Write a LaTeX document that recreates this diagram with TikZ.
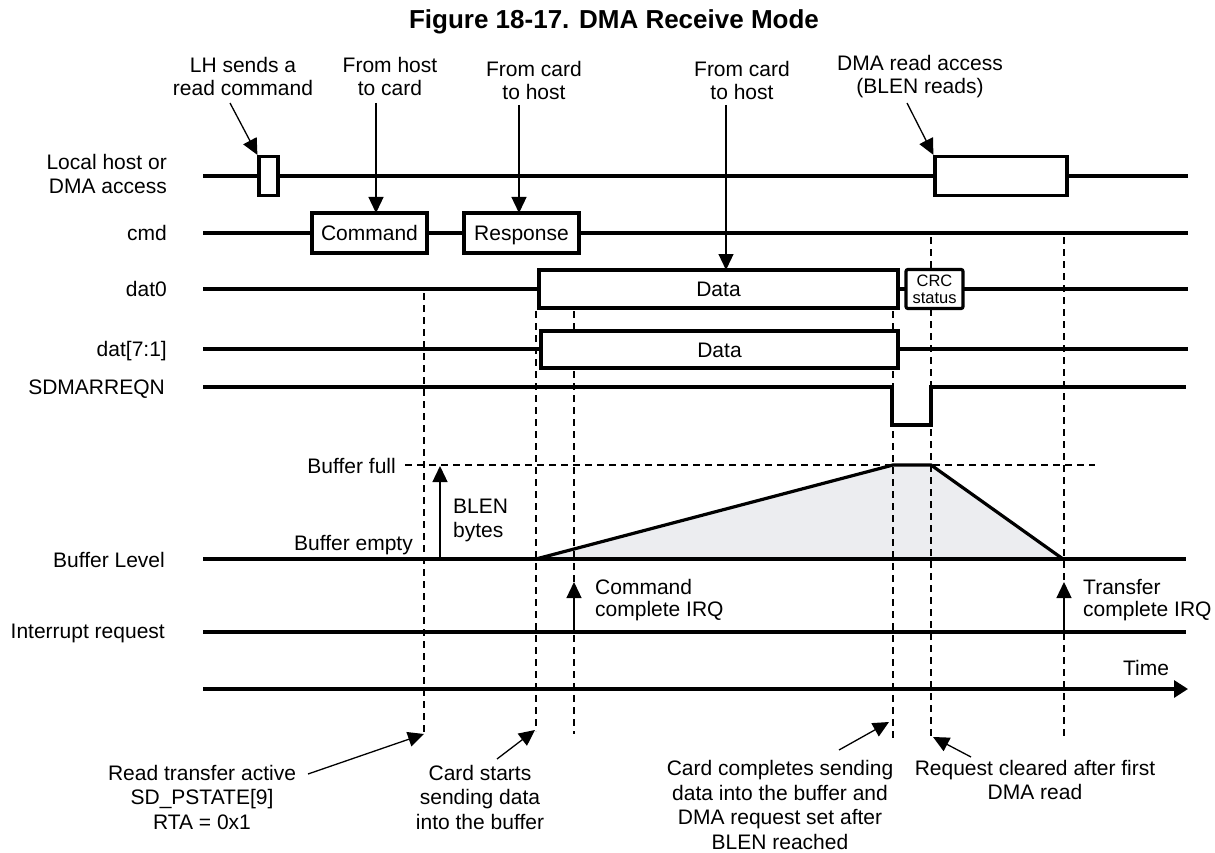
\documentclass[tikz,border=0pt]{standalone}
\usepackage{fontspec}
\setmainfont{Liberation Sans}
\usetikzlibrary{arrows.meta}
\definecolor{rampgray}{HTML}{ECEDF0}
\begin{document}
\begin{tikzpicture}[x=1pt,y=-1pt,
  sig/.style={line width=3.2pt},
  sigbox/.style={draw,line width=3.2pt,fill=white,inner sep=0pt,
    font=\fontsize{21}{24}\selectfont,text height=15pt,text depth=0pt},
  guide/.style={line width=1.3pt,dash pattern=on 7pt off 5pt},
  ann/.style={line width=1.3pt,-{Triangle[length=16pt,width=15pt]}},
  lbl/.style={inner sep=0pt,font=\fontsize{21}{24}\selectfont,align=center},
  rlbl/.style={inner sep=0pt,font=\fontsize{21}{24}\selectfont,anchor=base east},
]
\useasboundingbox (0,0) rectangle (1215,853);

% title
\node[inner sep=0pt,font=\fontsize{26}{30}\bfseries] (title) at (614,22) {Figure 18-17. DMA Receive Mode};

% signal names
\node[lbl,align=right,anchor=east] (lhlbl) at (167,174) {Local host or\\DMA access};
\node[rlbl] (cmdlbl) at (167,240.5) {cmd};
\node[rlbl] (dat0lbl) at (167,296.5) {dat0};
\node[rlbl] (dat71lbl) at (167,356.5) {dat[7:1]};
\node[rlbl] (reqlbl) at (165,394.5) {SDMARREQN};
\node[rlbl] (buflbl) at (165,567.5) {Buffer Level};
\node[rlbl] (irqlbl) at (165,638) {Interrupt request};

% buffer level fill
\fill[rampgray] (536,559) -- (893,465) -- (931,465) -- (1063,559) -- cycle;

% guide lines
\draw[guide] (424,293) -- (424,734);
\draw[guide] (536,311) -- (536,731);
\draw[guide] (574,311) -- (574,734);
\draw[guide] (893,311) -- (893,741);
\draw[guide] (931,237) -- (931,736);
\draw[guide] (1064,237) -- (1064,736);
\draw[guide] (405,465) -- (1095,465);

% signal lines
\draw[sig] (203,176) -- (1188,176);
\draw[sig] (203,233) -- (1188,233);
\draw[sig] (203,289) -- (1188,289);
\draw[sig] (203,349) -- (1188,349);
\draw[sig,line join=miter] (203,387) -- (892,387) -- (892,425) -- (931,425) -- (931,387) -- (1186,387);
\draw[sig] (203,559) -- (1186,559);
\draw[sig,line join=miter] (536,559) -- (893,465) -- (931,465) -- (1063,559);
\draw[sig] (203,632) -- (1186,632);
\draw[sig,-{Triangle[length=14pt,width=17pt]}] (203,689) -- (1188,689);

% boxes on the signals
\node[sigbox,minimum width=19pt,minimum height=39pt] (lhpulse) at (268.5,176) {};
\node[sigbox,minimum width=132pt,minimum height=39pt] (dmabox) at (1001,176) {};
\node[sigbox,minimum width=115pt,minimum height=40pt] (cmdbox) at (369.5,233) {Command};
\node[sigbox,minimum width=115pt,minimum height=40pt] (rspbox) at (521.5,233) {Response};
\node[sigbox,minimum width=359pt,minimum height=38pt] (data0) at (718.5,289) {Data};
\node[draw,line width=3.2pt,fill=white,inner sep=0pt,rounded corners=2pt,
  minimum width=57pt,minimum height=39pt,align=center,
  font=\fontsize{16.5}{17}\selectfont] (crc) at (934.5,289) {CRC\\status};
\node[sigbox,minimum width=357pt,minimum height=37pt] (data71) at (719.5,349.5) {Data};

% annotation texts, top
\node[lbl,font=\fontsize{21}{23}\selectfont] (lhtxt) at (243,76.5) {LH sends a\\read command};
\node[lbl,font=\fontsize{21}{23}\selectfont] (h2c) at (390,76.5) {From host\\to card};
\node[lbl,font=\fontsize{21}{23}\selectfont] (c2h) at (534,80) {From card\\to host};
\node[lbl,font=\fontsize{21}{23}\selectfont] (c2hb) at (742,80) {From card\\to host};
\node[lbl,font=\fontsize{21}{23}\selectfont] (dmatxt) at (920,77) {DMA read access\\(BLEN reads)};

\coordinate (lhs) at (230,103);
\coordinate (h2cs) at (376,103);
\coordinate (h2ce) at (376,213);
\coordinate (c2hs) at (519,105);
\coordinate (c2he) at (519,213);
\coordinate (c2hbs) at (726,105);
\coordinate (c2hbe) at (726,270);
\coordinate (dmas) at (907,103);
\draw[ann] (lhs) -- (lhpulse.north west);
\draw[ann] (h2cs) -- (h2ce);
\draw[ann] (c2hs) -- (c2he);
\draw[ann] (c2hbs) -- (c2hbe);
\draw[ann] (dmas) -- (dmabox.north west);

% buffer labels
\node[rlbl] (fulltxt) at (396,473) {Buffer full};
\node[rlbl] (emptytxt) at (413,550) {Buffer empty};
\node[lbl,align=left,anchor=west] (blentxt) at (453,520) {BLEN\\bytes};
\coordinate (blens) at (440,559);
\coordinate (blene) at (440,466);
\draw[ann] (blens) -- (blene);

% IRQ labels
\node[lbl,align=left,anchor=west,font=\fontsize{21}{22}\selectfont] (cmdirq) at (595,600) {Command\\complete IRQ};
\node[lbl,align=left,anchor=west,font=\fontsize{21}{22}\selectfont] (xferirq) at (1083,600) {Transfer\\complete IRQ};
\coordinate (cirqs) at (574,632);
\coordinate (cirqe) at (574,582);
\coordinate (tirqs) at (1064,632);
\coordinate (tirqe) at (1064,582);
\draw[ann] (cirqs) -- (cirqe);
\draw[ann] (tirqs) -- (tirqe);

\node[rlbl,anchor=base] (timetxt) at (1146,675) {Time};

% bottom annotations
\node[lbl,font=\fontsize{21}{24.5}\selectfont] (rtatxt) at (202,797) {Read transfer active\\SD\_PSTATE[9]\\RTA = 0x1};
\node[lbl,font=\fontsize{21}{24.5}\selectfont] (starttxt) at (480,797) {Card starts\\sending data\\into the buffer};
\node[lbl,font=\fontsize{21}{24.5}\selectfont] (donetxt) at (780,805) {Card completes sending\\data into the buffer and\\DMA request set after\\BLEN reached};
\node[lbl,font=\fontsize{21}{24.5}\selectfont] (clrtxt) at (1035,780) {Request cleared after first\\DMA read};

\coordinate (rtas) at (308,774);
\coordinate (rtae) at (424,734);
\coordinate (sts) at (497,759);
\coordinate (ste) at (535,730);
\coordinate (dns) at (839,750);
\coordinate (dne) at (889,722);
\coordinate (cls) at (971,757);
\coordinate (cle) at (933,737);
\draw[ann] (rtas) -- (rtae);
\draw[ann] (sts) -- (ste);
\draw[ann] (dns) -- (dne);
\draw[ann] (cls) -- (cle);
\end{tikzpicture}
\end{document}
